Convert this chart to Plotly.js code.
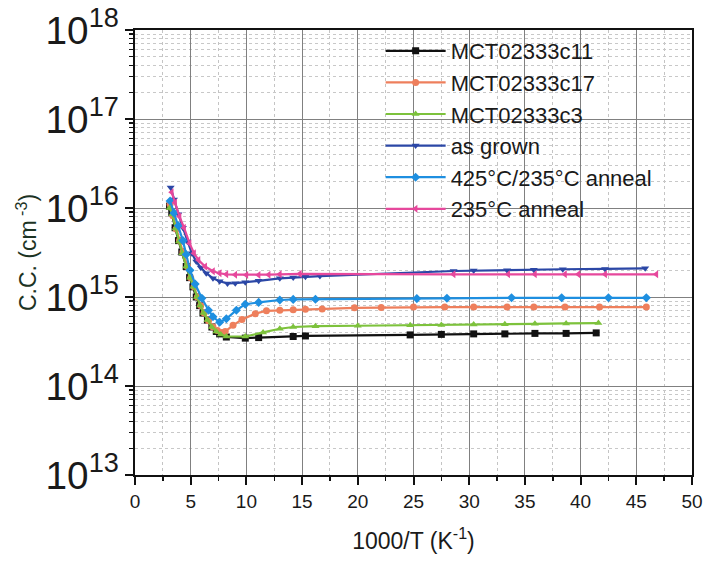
<!DOCTYPE html>
<html>
<head>
<meta charset="utf-8">
<script src="https://cdn.plot.ly/plotly-3.0.1.min.js"></script>
<style>html,body{margin:0;padding:0;background:#fff;}#chart{width:710px;height:565px;}</style>
</head>
<body>
<div id="chart"></div>
<script>
// Series names
const seriesNames = ["MCT02333c11", "MCT02333c17", "MCT02333c3", "as grown", "425°C/235°C anneal", "235°C anneal"];

// MCT02333c11 (black squares)
const c11X = [3.1, 3.3, 3.6, 3.9, 4.2, 4.6, 4.9, 5.2, 5.5, 5.8, 6.1, 6.5, 6.9, 7.3, 7.6, 8.2, 9.9, 11.1, 14.2, 15.3, 24.7, 27.5, 30.4, 33.2, 35.9, 38.7, 41.4];
const c11Y = [1.05e16, 8.8e15, 6.0e15, 4.3e15, 3.2e15, 2.2e15, 1.65e15, 1.3e15, 1.0e15, 8.0e14, 6.6e14, 5.5e14, 4.6e14, 4.1e14, 3.85e14, 3.55e14, 3.45e14, 3.5e14, 3.6e14, 3.65e14, 3.75e14, 3.8e14, 3.85e14, 3.85e14, 3.9e14, 3.9e14, 3.95e14];

// MCT02333c17 (orange circles)
const c17X = [3.15, 3.4, 3.7, 4.0, 4.3, 4.7, 5.0, 5.3, 5.6, 5.9, 6.2, 6.6, 7.0, 7.4, 7.8, 8.1, 8.8, 9.6, 10.8, 11.8, 13.0, 14.2, 15.3, 16.8, 19.7, 22.1, 25.0, 27.8, 30.4, 33.4, 35.8, 38.6, 41.7, 45.9];
const c17Y = [1.1e16, 8.2e15, 5.8e15, 4.3e15, 3.2e15, 2.2e15, 1.65e15, 1.3e15, 1.0e15, 8.0e14, 6.6e14, 5.4e14, 4.6e14, 4.2e14, 4.0e14, 4.1e14, 4.8e14, 5.6e14, 6.5e14, 7.0e14, 7.1e14, 7.2e14, 7.3e14, 7.35e14, 7.55e14, 7.6e14, 7.7e14, 7.7e14, 7.7e14, 7.7e14, 7.7e14, 7.7e14, 7.7e14, 7.7e14];

// MCT02333c3 (green triangles up)
const c3X = [3.1, 3.35, 3.65, 3.95, 4.25, 4.6, 4.95, 5.25, 5.55, 5.85, 6.15, 6.5, 6.9, 7.3, 7.7, 8.2, 9.9, 11.5, 13.0, 14.2, 16.2, 20.0, 24.7, 27.5, 30.4, 33.2, 35.9, 38.7, 41.6];
const c3Y = [1.0e16, 8.5e15, 5.9e15, 4.2e15, 3.1e15, 2.2e15, 1.65e15, 1.3e15, 1.0e15, 8.0e14, 6.6e14, 5.5e14, 4.6e14, 4.1e14, 3.8e14, 3.6e14, 3.6e14, 4.0e14, 4.4e14, 4.6e14, 4.7e14, 4.75e14, 4.8e14, 4.85e14, 4.9e14, 4.95e14, 5.0e14, 5.05e14, 5.1e14];

// as grown (dark blue triangles down)
const grownX = [3.2, 3.5, 3.9, 4.3, 4.7, 5.1, 5.5, 5.9, 6.4, 7.0, 7.6, 8.3, 9.0, 9.9, 11.1, 13.0, 14.2, 15.3, 16.6, 28.6, 30.4, 33.4, 35.8, 38.4, 42.2, 45.8];
const grownY = [1.7e16, 1.25e16, 8.5e15, 6.0e15, 4.2e15, 3.1e15, 2.5e15, 2.15e15, 1.85e15, 1.62e15, 1.5e15, 1.42e15, 1.43e15, 1.46e15, 1.52e15, 1.62e15, 1.66e15, 1.69e15, 1.72e15, 1.96e15, 1.98e15, 2.0e15, 2.02e15, 2.05e15, 2.07e15, 2.1e15];

// 425°C/235°C anneal (light blue diamonds)
const annealAX = [3.15, 3.5, 3.9, 4.3, 4.6, 4.94, 5.4, 6.0, 6.6, 7.0, 7.6, 8.2, 9.1, 9.9, 11.1, 13.0, 14.2, 16.2, 25.3, 28.0, 33.8, 38.3, 42.5, 45.9];
const annealAY = [1.2e16, 8.8e15, 6.3e15, 4.3e15, 3.0e15, 2.0e15, 1.4e15, 9.7e14, 7.1e14, 6.0e14, 5.2e14, 5.7e14, 7.1e14, 8.3e14, 8.7e14, 9.25e14, 9.4e14, 9.45e14, 9.6e14, 9.7e14, 9.8e14, 9.8e14, 9.8e14, 9.8e14];

// 235°C anneal (pink triangles left)
const annealBX = [3.3, 3.6, 4.0, 4.4, 4.9, 5.3, 5.7, 6.3, 7.0, 7.6, 8.2, 9.0, 10.0, 11.1, 12.0, 13.0, 14.8, 28.6, 33.5, 35.9, 38.6, 39.8, 42.2, 46.8];
const annealBY = [1.5e16, 1.15e16, 8.0e15, 6.0e15, 4.0e15, 3.1e15, 2.6e15, 2.2e15, 1.95e15, 1.85e15, 1.8e15, 1.78e15, 1.77e15, 1.77e15, 1.78e15, 1.8e15, 1.82e15, 1.8e15, 1.8e15, 1.8e15, 1.8e15, 1.8e15, 1.8e15, 1.8e15];

const xTickVals = [0, 5, 10, 15, 20, 25, 30, 35, 40, 45, 50];

const colors = ["#111111", "#EE7F5C", "#7DC23C", "#2B47A6", "#1E8FE0", "#E6489C"];
const symbols = ["square", "circle", "triangle-up", "triangle-down", "diamond", "triangle-left"];
const xs = [c11X, c17X, c3X, grownX, annealAX, annealBX];
const ys = [c11Y, c17Y, c3Y, grownY, annealAY, annealBY];

const traces = seriesNames.map((n, i) => ({
  x: xs[i], y: ys[i], name: n, type: "scatter", mode: "lines+markers",
  line: {color: colors[i], width: 2.2},
  marker: {color: colors[i], symbol: symbols[i], size: 7}
}));

const layout = {
  width: 710, height: 565,
  margin: {l: 135, r: 18, t: 30, b: 90},
  paper_bgcolor: "#ffffff", plot_bgcolor: "#ffffff",
  font: {family: "Liberation Sans, Arial, sans-serif", color: "#1a1a1a"},
  showlegend: true,
  legend: {
    x: 0.441, y: 1.0, xanchor: "left", yanchor: "top",
    bgcolor: "rgba(0,0,0,0)", borderwidth: 0,
    font: {size: 22, color: "#1a1a1a"},
    itemwidth: 60, tracegroupgap: 0
  },
  xaxis: {
    range: [0, 50], tickvals: xTickVals, ticktext: xTickVals.map(String),
    ticks: "outside", ticklen: 8, tickwidth: 2, tickcolor: "#111",
    showline: true, linecolor: "#111", linewidth: 2, mirror: true,
    showgrid: true, gridcolor: "#808080", gridwidth: 1, zeroline: false,
    tickfont: {size: 19, color: "#1a1a1a"},
    minor: {dtick: 2.5, tick0: 0, ticks: "outside", ticklen: 4, tickwidth: 1.5, tickcolor: "#111", showgrid: true, gridcolor: "#c4c4c4", griddash: "dot", gridwidth: 1},
    title: {text: "1000/T (K<sup>-1</sup>)", font: {size: 23, color: "#1a1a1a"}, standoff: 22}
  },
  yaxis: {
    type: "log", range: [13, 18], dtick: 1, exponentformat: "power",
    ticks: "outside", ticklen: 8, tickwidth: 2, tickcolor: "#111",
    showline: true, linecolor: "#111", linewidth: 2, mirror: true,
    showgrid: true, gridcolor: "#808080", gridwidth: 1, zeroline: false,
    tickfont: {size: 31, color: "#1a1a1a"},
    minor: {dtick: "D1", ticks: "outside", ticklen: 4, tickwidth: 1.2, tickcolor: "#111", showgrid: true, gridcolor: "#c8c8c8", griddash: "dot", gridwidth: 1},
    title: {text: "C.C. (cm<sup> -3</sup>)", font: {size: 23, color: "#1c3324"}, standoff: 2}
  }
};

Plotly.newPlot("chart", traces, layout, {staticPlot: true, displayModeBar: false});
</script>
</body>
</html>
